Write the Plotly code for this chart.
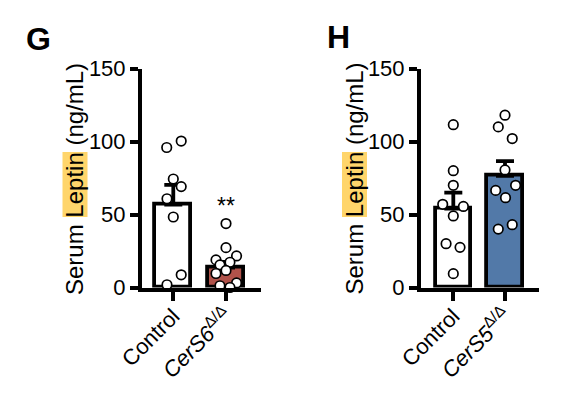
import plotly.graph_objects as go

# ---------------- data ----------------
categories_G = ["Control", "<i>CerS6</i><sup>Δ/Δ</sup>"]
categories_H = ["Control", "<i>CerS5</i><sup>Δ/Δ</sup>"]

G_control = [95.9, 100.3, 74.3, 69.1, 60.8, 48.3, 8.7, 1.9]
G_cers6 = [43.8, 27.3, 21.6, 18.9, 17.3, 15.5, 11.7, 9.6, 3.1, 1.2, 0.0]
G_means = [56.7, 13.7]
G_sem = [13.6, 3.8]

H_control = [111.5, 80.0, 70.0, 57.0, 55.5, 49.0, 30.0, 27.5, 9.5]
H_cers5 = [118.0, 110.0, 102.0, 80.5, 70.0, 66.5, 61.5, 43.0, 40.0]
H_means = [54.0, 76.5]
H_sem = [11.0, 10.0]

# horizontal jitter of the dots (category units)
jit_G_control = [-0.125, 0.15, 0.0, 0.15, -0.12, 0.0, 0.15, -0.12]
jit_G_cers6 = [0.0, 0.0, 0.2, -0.19, 0.075, -0.115, 0.0, -0.19, 0.2, -0.115, 0.075]
jit_H_control = [0.0, 0.0, 0.0, -0.205, 0.195, 0.0, -0.14, 0.13, 0.0]
jit_H_cers5 = [0.0, -0.13, 0.14, 0.0, 0.205, -0.18, 0.01, 0.14, -0.13]

y_ticks = [0, 50, 100, 150]

# ---------------- style ----------------
W, H = 576, 393
OFF = 8  # page body margin offset
FONT = "Liberation Sans, Arial, sans-serif"
RED = "#B0524A"
BLUE = "#5279A8"
HIGHLIGHT = "#FFD56B"

def px_x(p):
    return (p - OFF) / W

def px_y(p):
    return 1 - (p - OFF) / H

fig = go.Figure()

def add_panel(xa, ya, means, sem, fills, groups, jits):
    fig.add_trace(go.Bar(
        x=[0, 1], y=means, width=0.68,
        marker=dict(color=fills, line=dict(color="black", width=3.8)),
        error_y=dict(type="data", symmetric=False, array=sem, arrayminus=[0, 0],
                     color="black", thickness=3.8, width=9),
        xaxis=xa, yaxis=ya, showlegend=False,
    ))
    for i, (vals, jit) in enumerate(zip(groups, jits)):
        fig.add_trace(go.Scatter(
            x=[i + j for j in jit], y=vals, mode="markers",
            marker=dict(size=9.5, color="white", line=dict(color="black", width=1.7)),
            cliponaxis=False, xaxis=xa, yaxis=ya, showlegend=False,
        ))

add_panel("x", "y", G_means, G_sem, ["white", RED], [G_control, G_cers6],
          [jit_G_control, jit_G_cers6])
add_panel("x2", "y2", H_means, H_sem, ["white", BLUE], [H_control, H_cers5],
          [jit_H_control, jit_H_cers5])

ydom = [px_y(287.5), px_y(68.5)]

common_x = dict(showline=True, linewidth=4, linecolor="black", ticks="outside",
                ticklen=9, tickwidth=4, tickcolor="black", tickangle=-45,
                tickfont=dict(family=FONT, size=22, color="black"),
                ticklabelstandoff=-6,
                showgrid=False, zeroline=False, tickvals=[0, 1], automargin=False)
common_y = dict(showline=True, linewidth=4, linecolor="black", ticks="outside",
                ticklen=8, tickwidth=4, tickcolor="black",
                tickfont=dict(family=FONT, size=22, color="black"),
                showgrid=False, zeroline=False, range=[0, 150], automargin=False,
                tickvals=y_ticks, ticktext=[str(t) for t in y_ticks], domain=ydom)

fig.update_layout(
    width=W, height=H, margin=dict(l=0, r=0, t=0, b=0, autoexpand=False),
    paper_bgcolor="white", plot_bgcolor="white",
    bargap=0,
    xaxis=dict(common_x, domain=[px_x(142), px_x(261)], range=[-0.594, 1.664],
               ticktext=categories_G, anchor="y"),
    yaxis=dict(common_y, anchor="x"),
    xaxis2=dict(common_x, domain=[px_x(421), px_x(538.5)], range=[-0.625, 1.648],
                ticktext=categories_H, anchor="y2"),
    yaxis2=dict(common_y, anchor="x2"),
    font=dict(family=FONT, color="black"),
)

title = "Serum Leptin (ng/mL)"
for cx in (75, 354.5):
    fig.add_shape(type="rect", xref="paper", yref="paper",
                  x0=px_x(cx - 12.5), x1=px_x(cx + 12.5),
                  y0=px_y(217), y1=px_y(152),
                  fillcolor=HIGHLIGHT, line=dict(width=0), layer="below")
    fig.add_annotation(text=title, xref="paper", yref="paper",
                       x=px_x(cx), y=px_y(179), textangle=-90,
                       showarrow=False, xanchor="center", yanchor="middle",
                       font=dict(family=FONT, size=24, color="black"))

fig.add_annotation(text="**", xref="x", yref="y", x=1, y=56, showarrow=False,
                   xanchor="center", yanchor="middle",
                   font=dict(family=FONT, size=23, color="black"))

fig.add_annotation(text="<b>G</b>", xref="paper", yref="paper", x=px_x(38), y=px_y(38.5),
                   showarrow=False, xanchor="center", yanchor="middle",
                   font=dict(family=FONT, size=32, color="black"))
fig.add_annotation(text="<b>H</b>", xref="paper", yref="paper", x=px_x(338), y=px_y(37),
                   showarrow=False, xanchor="center", yanchor="middle",
                   font=dict(family=FONT, size=32, color="black"))

fig.write_html("out.html")
